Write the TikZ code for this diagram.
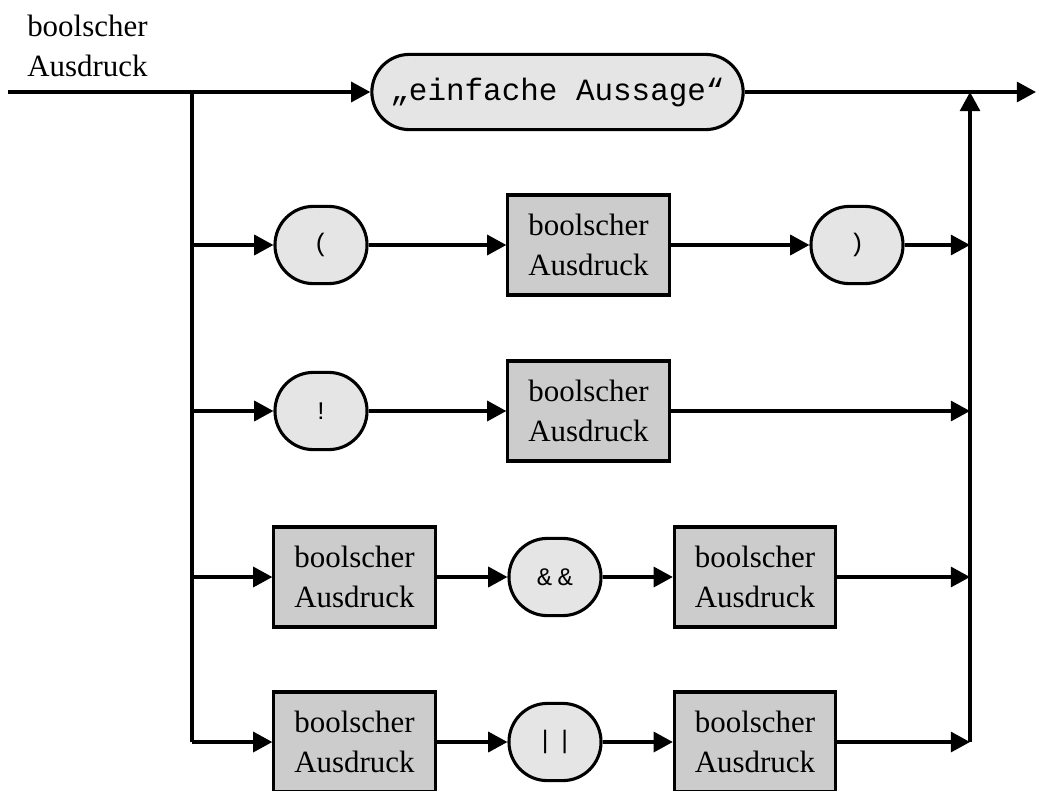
\documentclass[tikz,border=0pt]{standalone}
\usepackage{fontspec}
\setmainfont{Liberation Serif}
\setmonofont{Liberation Mono}
\usetikzlibrary{arrows.meta}
\tikzset{
  nonterm/.style={draw, line width=2.2pt, fill=black!20, minimum width=4.03cm, minimum height=2.5cm,
    align=center, inner sep=0pt, font=\fontsize{22}{28.5}\selectfont},
  term/.style={draw, line width=2.2pt, fill=black!10, rounded corners=0.96cm, minimum width=2.3cm,
    minimum height=1.93cm, inner sep=0pt, font=\ttfamily\fontsize{18}{22}\selectfont},
  flow/.style={line width=2.4pt, -{Triangle[length=0.48cm,width=0.5cm]}},
  rail/.style={line width=2.4pt}
}

\begin{document}
\begin{tikzpicture}[x=0.025cm, y=-0.025cm]
                \useasboundingbox (0,0) rectangle (1037,790);
                \node[anchor=north west, align=left, inner sep=0pt, font=\fontsize{22}{28.5}\selectfont] (title) at (27,15) {boolscher\\Ausdruck};
                \coordinate (in) at (8,92);
                \coordinate (split) at (192,92);
                \coordinate (join) at (970,92);
                \coordinate (out) at (1036,92);
                \coordinate (s2) at (192,245);
                \coordinate (s3) at (192,411);
                \coordinate (s4) at (192,577);
                \coordinate (s5) at (192,742);
                \coordinate (j2) at (970,245);
                \coordinate (j3) at (970,411);
                \coordinate (j4) at (970,577);
                \coordinate (j5) at (970,742);
                \node[term, minimum width=9.28cm, minimum height=1.88cm, rounded corners=0.94cm,
                  font=\ttfamily\fontsize{22}{26}\selectfont] (simple) at (557.5,92) {„einfache Aussage“};
                \node[term] (lparen) at (321,245) {(};
                \node[nonterm] (expr2) at (588.5,245) {boolscher\\Ausdruck};
                \node[term] (rparen) at (857,245) {)};
                \node[term] (neg) at (321,411) {!};
                \node[nonterm] (expr3) at (588.5,411) {boolscher\\Ausdruck};
                \node[nonterm] (lhs4) at (354.5,577) {boolscher\\Ausdruck};
                \node[term] (conj) at (555,577) {\&\kern4pt\&};
                \node[nonterm] (rhs4) at (755,577) {boolscher\\Ausdruck};
                \node[nonterm] (lhs5) at (354.5,742) {boolscher\\Ausdruck};
                \node[term] (disj) at (555,742) {|\kern3pt|};
                \node[nonterm] (rhs5) at (755,742) {boolscher\\Ausdruck};
                \draw[flow] (in) -- (simple);
                \draw[flow] (simple) -- (out);
                \draw[rail] (split) -- (s5);
                \draw[flow] (j5) -- (join);
                \draw[flow] (s2) -- (lparen);
                \draw[flow] (lparen) -- (expr2);
                \draw[flow] (expr2) -- (rparen);
                \draw[flow] (rparen) -- (j2);
                \draw[flow] (s3) -- (neg);
                \draw[flow] (neg) -- (expr3);
                \draw[flow] (expr3) -- (j3);
                \draw[flow] (s4) -- (lhs4);
                \draw[flow] (lhs4) -- (conj);
                \draw[flow] (conj) -- (rhs4);
                \draw[flow] (rhs4) -- (j4);
                \draw[flow] (s5) -- (lhs5);
                \draw[flow] (lhs5) -- (disj);
                \draw[flow] (disj) -- (rhs5);
                \draw[flow] (rhs5) -- (j5);
            \end{tikzpicture}
\end{document}
